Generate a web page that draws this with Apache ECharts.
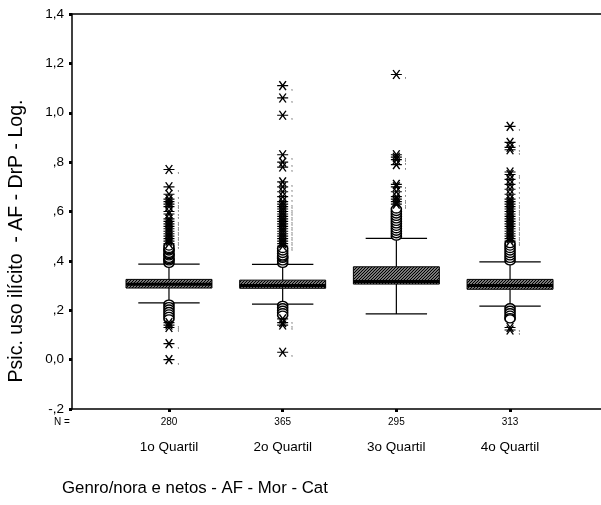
<!DOCTYPE html>
<html>
<head>
<meta charset="utf-8">
<script src="https://cdn.jsdelivr.net/npm/echarts@6/dist/echarts.min.js"></script>
<style>
  html, body { margin: 0; padding: 0; background: #fff; }
  #root { width: 601px; height: 505px; }
</style>
</head>
<body>
<div id="root"></div>
<script>
// categorias e contagens
const categories = ['1o Quartil', '2o Quartil', '3o Quartil', '4o Quartil'];
const counts = ['280', '365', '295', '313'];

// [min, Q1, mediana, Q3, max]
const boxStats = [
    [0.230, 0.290, 0.305, 0.325, 0.387],
    [0.225, 0.289, 0.300, 0.322, 0.386],
    [0.185, 0.306, 0.316, 0.376, 0.491],
    [0.217, 0.285, 0.300, 0.325, 0.396]
];

// outliers (o) por grupo
const circleOutliers = [
    [0.39, 0.40, 0.405, 0.41, 0.42, 0.425, 0.43, 0.44, 0.445, 0.45, 0.46,
     0.225, 0.215, 0.205, 0.195, 0.185, 0.175, 0.165],
    [0.39, 0.40, 0.41, 0.415, 0.42, 0.43, 0.44, 0.45,
     0.22, 0.21, 0.20, 0.19, 0.18],
    [0.50, 0.51, 0.52, 0.53, 0.54, 0.55, 0.56, 0.57, 0.58, 0.59, 0.60, 0.61],
    [0.40, 0.41, 0.42, 0.43, 0.44, 0.45, 0.46, 0.47,
     0.21, 0.20, 0.19, 0.18, 0.17, 0.165]
];

// extremos (*) por grupo
const starOutliers = [
    [0.47, 0.48, 0.49, 0.50, 0.51, 0.52, 0.53, 0.54, 0.55, 0.56, 0.57, 0.59, 0.60,
     0.62, 0.63, 0.64, 0.65, 0.67, 0.70, 0.77,
     0.15, 0.14, 0.13, 0.065, 0.0],
    [0.46, 0.47, 0.48, 0.49, 0.50, 0.51, 0.52, 0.53, 0.54, 0.55, 0.56, 0.57, 0.58,
     0.59, 0.60, 0.61, 0.62, 0.63, 0.64, 0.66, 0.68, 0.70, 0.72, 0.78, 0.80, 0.83,
     0.99, 1.06, 1.11,
     0.165, 0.15, 0.14, 0.03],
    [0.63, 0.64, 0.65, 0.66, 0.68, 0.70, 0.71, 0.79, 0.81, 0.82, 0.83, 1.155],
    [0.48, 0.49, 0.50, 0.51, 0.52, 0.53, 0.54, 0.55, 0.56, 0.57, 0.58, 0.59, 0.60,
     0.61, 0.62, 0.63, 0.64, 0.65, 0.67, 0.69, 0.71, 0.73, 0.75, 0.76, 0.85, 0.86,
     0.88, 0.945,
     0.13, 0.12]
];

const yTicks = [-0.2, 0, 0.2, 0.4, 0.6, 0.8, 1.0, 1.2, 1.4];

const FONT = 'Liberation Sans, Arial, sans-serif';
const BOX_W = 0.756;
const CAP_W = 0.54;

// textura tracejada das caixas
let hatch = document.createElement('canvas');
hatch.width = 3;
hatch.height = 3;
let hc = hatch.getContext('2d');
hc.fillStyle = '#fff';
hc.fillRect(0, 0, 3, 3);
hc.strokeStyle = '#000';
hc.lineWidth = 1.5;
hc.beginPath();
hc.moveTo(0, 3); hc.lineTo(3, 0);
hc.moveTo(-1, 1); hc.lineTo(1, -1);
hc.moveTo(2, 4); hc.lineTo(4, 2);
hc.stroke();

let boxData = boxStats.map((s, i) => [i + 1].concat(s));

let toPoints = function (list) {
    let pts = [];
    list.forEach((vals, i) => {
        vals.forEach(v => pts.push([i + 1, v]));
    });
    return pts;
};

let fmtY = function (v) {
    let s = v.toFixed(1).replace('.', ',');
    if (Math.abs(v) < 1e-9) return '0,0';
    if (s.indexOf('0,') === 0) s = s.slice(1);
    if (s.indexOf('-0,') === 0) s = '-' + s.slice(2);
    return s;
};

let renderBox = function (params, api) {
    let x = api.value(0);
    let pMin = api.coord([x, api.value(1)]);
    let pQ1 = api.coord([x, api.value(2)]);
    let pMed = api.coord([x, api.value(3)]);
    let pQ3 = api.coord([x, api.value(4)]);
    let pMax = api.coord([x, api.value(5)]);
    let bw = api.size([BOX_W, 0])[0];
    let cw = api.size([CAP_W, 0])[0];
    let cx = pMin[0];
    let line = { stroke: '#000', lineWidth: 1.2 };
    return {
        type: 'group',
        children: [
            { type: 'line', shape: { x1: cx, y1: pMax[1], x2: cx, y2: pQ3[1] }, style: line },
            { type: 'line', shape: { x1: cx, y1: pQ1[1], x2: cx, y2: pMin[1] }, style: line },
            { type: 'line', shape: { x1: cx - cw / 2, y1: pMax[1], x2: cx + cw / 2, y2: pMax[1] }, style: line },
            { type: 'line', shape: { x1: cx - cw / 2, y1: pMin[1], x2: cx + cw / 2, y2: pMin[1] }, style: line },
            {
                type: 'rect',
                shape: { x: cx - bw / 2, y: pQ3[1], width: bw, height: pQ1[1] - pQ3[1] },
                style: { fill: { image: hatch, repeat: 'repeat' }, stroke: '#000', lineWidth: 1 }
            },
            { type: 'line', shape: { x1: cx - bw / 2, y1: pMed[1], x2: cx + bw / 2, y2: pMed[1] },
              style: { stroke: '#000', lineWidth: 3 } }
        ]
    };
};

let myChart = echarts.init(document.getElementById('root'));

let axisBlack = { color: '#000', width: 1.5 };

let option = {
    animation: false,
    backgroundColor: '#fff',
    textStyle: { fontFamily: FONT },
    grid: { left: 72, right: 0, top: 14, bottom: 96 },
    xAxis: [
        {
            type: 'value',
            position: 'bottom',
            min: 0.147,
            max: 4.8,
            splitLine: { show: false },
            axisLine: { onZero: false, lineStyle: axisBlack },
            axisTick: {
                customValues: [1, 2, 3, 4],
                length: 3,
                lineStyle: { color: '#000', width: 3 }
            },
            axisLabel: {
                customValues: [1, 2, 3, 4],
                margin: 2,
                color: '#000',
                formatter: function (v) {
                    let i = Math.round(v) - 1;
                    return '{n|' + counts[i] + '}\n{q|' + categories[i] + '}';
                },
                rich: {
                    n: { fontSize: 10, lineHeight: 22, fontFamily: FONT, color: '#000' },
                    q: { fontSize: 13.5, lineHeight: 28, fontFamily: FONT, color: '#000' }
                }
            }
        },
        {
            // linha superior do quadro
            type: 'value',
            position: 'top',
            min: 0.147,
            max: 4.8,
            splitLine: { show: false },
            axisLine: { onZero: false, lineStyle: axisBlack },
            axisTick: { show: false },
            axisLabel: { show: false }
        }
    ],
    yAxis: {
        type: 'value',
        min: yTicks[0],
        max: yTicks[yTicks.length - 1],
        interval: 0.2,
        splitLine: { show: false },
        axisLine: { show: true, onZero: false, lineStyle: axisBlack },
        axisTick: { show: true, length: 3, lineStyle: { color: '#000', width: 3 } },
        axisLabel: {
            margin: 8,
            fontSize: 13.5,
            color: '#000',
            fontFamily: FONT,
            formatter: fmtY
        }
    },
    graphic: [
        {
            type: 'text', x: 17, y: 241, rotation: Math.PI / 2,
            style: {
                text: 'Psic. uso ilícito  - AF - DrP - Log.',
                fontSize: 19.5, fontFamily: FONT, fill: '#000',
                align: 'center', verticalAlign: 'middle'
            }
        },
        {
            type: 'text', x: 62, y: 422,
            style: {
                text: 'N =', fontSize: 10, fontFamily: FONT, fill: '#000',
                align: 'center', verticalAlign: 'middle'
            }
        },
        {
            type: 'text', x: 62, y: 488,
            style: {
                text: 'Genro/nora e netos - AF - Mor - Cat',
                fontSize: 16.8, fontFamily: FONT, fill: '#000',
                align: 'left', verticalAlign: 'middle'
            }
        }
    ],
    series: [
        {
            type: 'custom',
            renderItem: renderBox,
            data: boxData,
            encode: { x: 0, y: [1, 2, 3, 4, 5] },
            z: 2
        },
        {
            type: 'scatter',
            data: toPoints(circleOutliers),
            symbol: 'circle',
            symbolSize: [10, 8],
            itemStyle: { color: '#fff', borderColor: '#000', borderWidth: 1.5, opacity: 1 },
            z: 3
        },
        {
            type: 'scatter',
            data: toPoints(starOutliers),
            symbol: 'path://M0,4 L10,4 M2,0 L8,8 M8,0 L2,8',
            symbolSize: [11, 9],
            itemStyle: { color: 'none', borderColor: '#000', borderWidth: 1.3, opacity: 1 },
            label: {
                show: true, position: 'right', distance: 0, offset: [0, 2],
                formatter: ',', fontSize: 7, color: '#000'
            },
            z: 4
        }
    ]
};

myChart.setOption(option);
</script>
</body>
</html>
